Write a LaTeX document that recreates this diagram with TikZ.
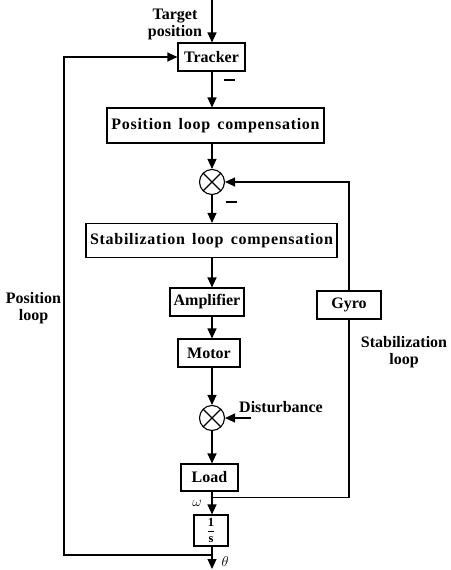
\documentclass[tikz,border=0pt]{standalone}
\usepackage{fontspec}
\setmainfont{Liberation Serif}
\newfontfamily\widefont[LetterSpace=4.5]{Liberation Serif}
\usetikzlibrary{arrows.meta}
\begin{document}
\begin{tikzpicture}[x=1pt,y=-1pt,
  every node/.style={font=\fontsize{16}{18}\selectfont\bfseries},
  blk/.style={draw,line width=1.1pt,inner sep=0pt,anchor=center},
  widetext/.style={font={\fontsize{16}{18}\selectfont\widefont\bfseries\spaceskip=0.45em\relax}},
  sumj/.style={draw,circle,line width=1.1pt,minimum size=25pt,inner sep=0pt,
    path picture={\draw[line width=1.1pt] (path picture bounding box.north west)--(path picture bounding box.south east)
      (path picture bounding box.north east)--(path picture bounding box.south west);}},
  arr/.style={line width=1.1pt,-{Triangle[length=10pt,width=9pt]}},
  ln/.style={line width=1.1pt},
  lbl/.style={inner sep=0pt,align=center}]
\useasboundingbox (0,0) rectangle (450,570);
% blocks
\node[blk,minimum width=67pt,minimum height=28pt] (tracker) at (211.5,57) {Tracker};
\node[blk,widetext,minimum width=217pt,minimum height=35pt] (pcomp) at (215.5,125.5) {Position loop compensation};
\node[sumj] (sum1) at (212,182) {};
\node[blk,widetext,minimum width=251pt,minimum height=34pt] (scomp) at (211.5,240.5) {Stabilization loop compensation};
\node[blk,minimum width=74pt,minimum height=28pt] (amp) at (207,302) {Amplifier};
\node[blk,minimum width=62pt,minimum height=28pt] (motor) at (209,353) {Motor};
\node[sumj] (sum2) at (212,418) {};
\node[blk,minimum width=57pt,minimum height=27pt] (load) at (209.5,477.5) {Load};
\node[blk,minimum width=34pt,minimum height=31pt,font=\fontsize{12.5}{14}\selectfont\bfseries] (integ) at (211,530.5) {$\displaystyle\frac{\textbf{1}}{\textbf{s}}$};
\node[blk,minimum width=64pt,minimum height=28pt] (gyro) at (349,305) {Gyro};
% coordinates
\coordinate (tin) at (212,0);
\coordinate (wpt) at (212,497.5);
\coordinate (tpt) at (212,555);
\coordinate (out) at (212,569);
\coordinate (lcorner) at (64,555);
\coordinate (rcorner) at (349,497.5);
\coordinate (dist) at (251,418);
% labels
\node[lbl] (target) at (175,24) {Target\\[-1pt]position};
\node[lbl] (posloop) at (33.5,308) {Position\\[-1pt]loop};
\node[lbl] (stabloop) at (404,352) {Stabilization\\[-1pt]loop};
\node[lbl] (distl) at (281,407) {Disturbance};
\node[lbl] (m1) at (229,80) {\rule{11pt}{1.3pt}};
\node[lbl] (m2) at (231,202) {\rule{11pt}{1.3pt}};
\node[lbl,font=\fontsize{15}{17}\selectfont] (omega) at (197,503) {$\omega$};
\node[lbl,font=\fontsize{15}{17}\selectfont] (theta) at (225,561) {$\theta$};
% connectors
\draw[arr] (tin) -- (tin |- tracker.north);
\draw[arr] (tin |- tracker.south) -- (tin |- pcomp.north);
\draw[arr] (tin |- pcomp.south) -- (sum1.north);
\draw[arr] (sum1.south) -- (tin |- scomp.north);
\draw[arr] (tin |- scomp.south) -- (tin |- amp.north);
\draw[arr] (tin |- amp.south) -- (tin |- motor.north);
\draw[arr] (tin |- motor.south) -- (sum2.north);
\draw[arr] (dist) -- (sum2.east);
\draw[arr] (sum2.south) -- (tin |- load.north);
\draw[arr] (tin |- load.south) -- (tin |- integ.north);
\draw[arr] (tin |- integ.south) -- (out);
\draw[ln] (wpt) -- (rcorner) -- (gyro.south);
\draw[arr] (gyro.north) |- (sum1.east);
\draw[arr] (tpt) -- (lcorner) |- (tracker.west);
\end{tikzpicture}
\end{document}
